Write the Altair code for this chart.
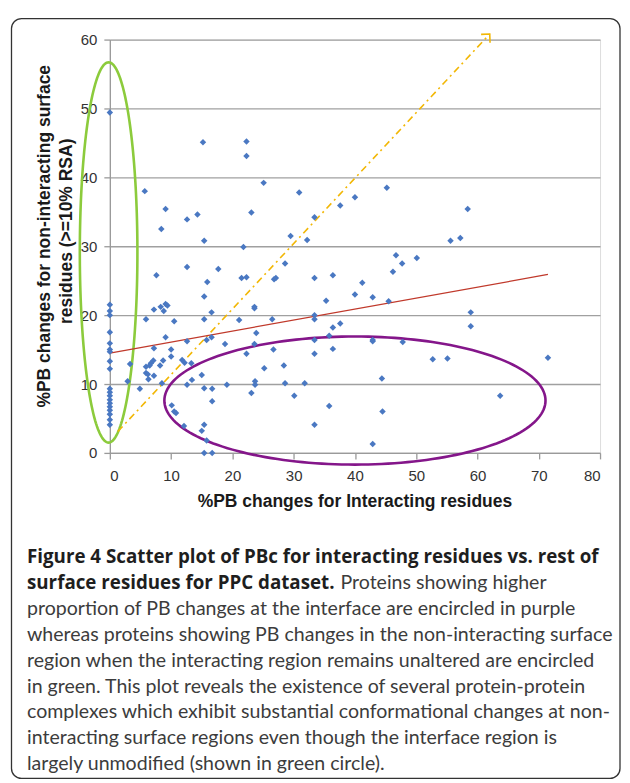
import altair as alt
import pandas as pd
import numpy as np

# ---------------- data ----------------
# points on x = 0
zero_y = [49.4, 21.5, 20.6, 20.0, 17.5, 15.9, 15.0, 14.7, 13.3, 12.2,
          9.3, 8.8, 8.3, 7.7, 7.2, 6.7, 6.2, 5.6, 4.8, 4.1]

pts_x = [15.2, 22.3, 22.3, 25.1, 5.7, 9.1, 23.1, 12.6, 14.3, 8.4, 15.4, 21.8,
         30.9, 45.2, 40.0, 37.6, 33.4, 29.5, 32.2, 58.4, 55.6, 57.2,
         12.6, 7.6, 17.7, 15.9, 21.5, 22.3, 15.4, 8.3, 9.1, 9.4, 8.8, 7.2,
         5.9, 10.5, 16.6, 15.4, 21.1, 23.6, 23.6, 26.5, 23.9, 9.1, 12.6,
         15.8, 16.6, 18.8, 26.7, 7.2, 10.0, 10.0, 22.3, 3.3, 7.1, 6.7, 6.5,
         5.9, 8.7, 8.2, 11.8, 12.2, 13.3, 5.9, 6.2, 7.2, 6.3, 8.5, 15.0, 13.4,
         12.6, 2.9, 4.9, 15.4, 16.7, 19.1, 23.7, 23.7, 23.1, 16.7, 10.1, 10.5,
         10.8, 12.1, 15.4, 15.0, 15.8, 15.4, 16.7, 23.6,
         28.6, 46.7, 47.7, 50.1, 46.2, 33.4, 36.4, 26.8, 27.1, 41.2, 35.3,
         40.0, 42.9, 45.5, 33.4, 33.4, 36.4, 37.6, 35.8, 33.4, 42.9, 42.9,
         47.8, 33.4, 36.4, 25.2, 28.4, 52.7, 44.4, 28.6, 31.8, 30.1, 35.8,
         44.5, 33.4, 42.9,
         58.9, 58.9, 55.1, 71.5, 63.7]
pts_y = [45.1, 45.2, 43.1, 39.2, 38.0, 35.4, 34.9, 33.9, 34.6, 32.5, 30.8, 29.9,
         37.8, 38.5, 37.1, 35.9, 34.2, 31.5, 30.9, 35.4, 30.8, 31.2,
         27.0, 25.8, 26.7, 24.8, 25.4, 25.5, 22.7, 21.2, 21.6, 21.4, 20.6, 20.8,
         19.4, 19.1, 20.4, 19.4, 19.3, 21.2, 21.0, 19.4, 17.4, 16.8, 16.2,
         16.4, 16.8, 15.8, 15.0, 15.2, 15.0, 14.0, 14.4, 12.9, 13.4, 13.0, 12.7,
         12.5, 13.4, 12.7, 13.5, 13.1, 13.0, 11.6, 11.4, 11.2, 10.7, 10.1, 11.3, 10.6,
         9.9, 10.4, 9.3, 9.4, 9.3, 9.9, 10.4, 9.9, 8.7, 7.5, 6.9, 6.0,
         5.8, 3.9, 4.1, 3.2, 1.8, 0.0, 0.0, 15.8,
         27.5, 28.7, 27.5, 28.3, 26.3, 25.4, 25.8, 25.2, 25.4, 24.7, 22.1,
         23.0, 22.6, 22.0, 20.0, 19.4, 18.2, 18.8, 17.0, 16.4, 16.4, 16.2,
         16.1, 14.4, 15.1, 12.3, 12.7, 13.6, 10.8, 10.1, 10.1, 8.3, 6.8,
         6.0, 4.1, 1.3,
         20.4, 18.4, 13.7, 13.8, 8.3]

# trend line (linear fit shown in the figure)
trend_x = [0.0, 71.5]
trend_y = [14.5, 25.9]

# dash-dot arrow y ~ x
arrow_x = [1.3, 62.0]
arrow_y = [3.1, 60.8]

# ellipses: centre x, centre y, radius x, radius y
green_ell = [-0.2, 29.1, 4.7, 27.6]
purple_ell = [40.0, 7.6, 31.1, 9.3]

x_ticks = [0, 10, 20, 30, 40, 50, 60, 70, 80]
y_ticks = [0, 10, 20, 30, 40, 50, 60]

x_title = "%PB changes for Interacting residues"
y_title = ["%PB changes  for non-interacting surface", "residues (>=10% RSA)"]

cap_bold_1 = "Figure 4 Scatter plot of PBc for interacting residues vs. rest of"
cap_bold_2 = "surface residues for PPC dataset."
cap_reg_2 = "Proteins showing higher"
cap_lines = [
    "proportion of PB changes at the interface are encircled in purple",
    "whereas proteins showing PB changes in the non-interacting surface",
    "region when the interacting region remains unaltered are encircled",
    "in green. This plot reveals the existence of several protein-protein",
    "complexes which exhibit substantial conformational changes at non-",
    "interacting surface regions even though the interface region is",
    "largely unmodified (shown in green circle).",
]

# ---------------- build ----------------
W, H = 491, 414
xs = alt.Scale(domain=[0, 80], nice=False, zero=False)
ys = alt.Scale(domain=[0, 60], nice=False, zero=False)

pts = pd.DataFrame({"x": [0.0] * len(zero_y) + pts_x, "y": zero_y + pts_y})

AX_FONT = "Liberation Sans"

points = alt.Chart(pts).mark_point(
    shape="diamond", filled=True, size=42, color="#4A78C2", opacity=1
).encode(
    x=alt.X("x:Q", scale=xs,
            axis=alt.Axis(values=x_ticks, grid=False, title=None, tickSize=6,
                          labelPadding=10, domainColor="#9a9a9a", tickColor="#9a9a9a",
                          labelFontSize=15, labelFont=AX_FONT, labelColor="#333333",
                          domainWidth=1.3, tickWidth=1.3)),
    y=alt.Y("y:Q", scale=ys,
            axis=alt.Axis(values=y_ticks, grid=True, title=None, tickSize=6,
                          labelPadding=7, gridColor="#a0a0a0", gridWidth=1.3,
                          domainColor="#9a9a9a", tickColor="#9a9a9a",
                          labelFontSize=15, labelFont=AX_FONT, labelColor="#333333",
                          domainWidth=1.3, tickWidth=1.3)),
)

trend = alt.Chart(pd.DataFrame({"x": trend_x, "y": trend_y})).mark_line(
    color="#C0392B", strokeWidth=1.3
).encode(x=alt.X("x:Q", scale=xs), y=alt.Y("y:Q", scale=ys))

arrow_df = pd.DataFrame({"x": arrow_x, "y": arrow_y})
arrow_line = alt.Chart(arrow_df).mark_line(
    color="#F2B705", strokeWidth=1.6, strokeDash=[7, 4, 2, 4]
).encode(x=alt.X("x:Q", scale=xs), y=alt.Y("y:Q", scale=ys))
arrow_head = alt.Chart(arrow_df.tail(1)).mark_point(
    shape="M-1,1L0,0L1,1", filled=False, size=150, strokeWidth=1.6,
    color="#F2B705", angle=43, opacity=1
).encode(x=alt.X("x:Q", scale=xs), y=alt.Y("y:Q", scale=ys))


def ellipse(params):
    cx, cy, rx, ry = params
    t = np.linspace(0, 2 * np.pi, 181)
    return pd.DataFrame({"x": cx + rx * np.cos(t), "y": cy + ry * np.sin(t),
                         "i": np.arange(len(t))})


green = alt.Chart(ellipse(green_ell)).mark_line(
    color="#8CCB3C", strokeWidth=2.6
).encode(x=alt.X("x:Q", scale=xs), y=alt.Y("y:Q", scale=ys), order="i:Q")
purple = alt.Chart(ellipse(purple_ell)).mark_line(
    color="#84168A", strokeWidth=2.6
).encode(x=alt.X("x:Q", scale=xs), y=alt.Y("y:Q", scale=ys), order="i:Q")


def txt(s, x, y, size, weight="normal", color="#222222", font=AX_FONT,
        align="left", angle=0):
    kw = dict(fontSize=size, fontWeight=weight, color=color, font=font,
              align=align, baseline="middle")
    if angle:
        kw["angle"] = angle
    return alt.Chart(pd.DataFrame({"t": [s]})).mark_text(**kw).encode(
        text="t:N", x=alt.value(x), y=alt.value(y))


layers = [green, purple, arrow_line, arrow_head, trend, points]

# axis titles
layers.append(txt(x_title, W / 2, 463, 17.5, "bold", "#1a1a1a", align="center"))
layers.append(txt(y_title[0], -65, 197, 17.5, "bold", "#1a1a1a", align="center", angle=270))
layers.append(txt(y_title[1], -43, 192, 17.5, "bold", "#1a1a1a", align="center", angle=270))

# caption
BOLD_FONT = "Open Sans"
REG_FONT = "Lato"
cx0 = 27 - 110
base = 557 - 39
layers.append(txt(cap_bold_1, cx0, base, 18.8, "bold", "#1e1e1e", BOLD_FONT))
layers.append(txt(cap_bold_2, cx0, base + 26, 18.8, "bold", "#1e1e1e", BOLD_FONT))
layers.append(txt(cap_reg_2, 341 - 110, base + 26, 19.6, "normal", "#3c3c3c", REG_FONT))
for k, line in enumerate(cap_lines):
    layers.append(txt(line, cx0, base + 26 * (k + 2), 19.6, "normal", "#3c3c3c", REG_FONT))

# frame
frame = alt.Chart(pd.DataFrame({"a": [0]})).mark_rect(
    fill="white", fillOpacity=0, stroke="#333333", strokeWidth=1.3, cornerRadius=10
).encode(x=alt.value(11.5 - 110), x2=alt.value(621 - 110),
         y=alt.value(18 - 39), y2=alt.value(779 - 39))
layers.append(frame)

chart = alt.layer(*layers).properties(
    width=W, height=H,
    autosize=alt.AutoSizeParams(type="none"),
    padding={"left": 102, "top": 31, "right": 22, "bottom": 328},
).configure_view(stroke=None).configure(background="white")

chart.save("out.html", embed_options={"renderer": "svg", "actions": False})
